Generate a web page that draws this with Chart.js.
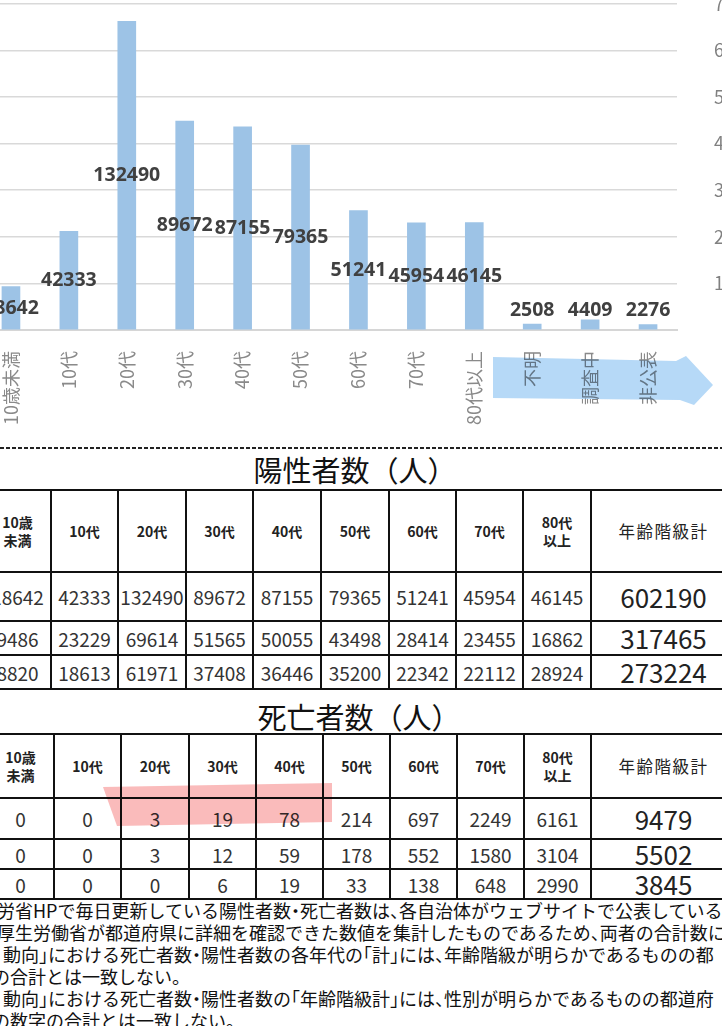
<!DOCTYPE html>
<html lang="ja">
<head>
<meta charset="utf-8">
<script src="https://cdn.jsdelivr.net/npm/chart.js@4.4.0/dist/chart.umd.min.js"></script>
<style>
html,body{margin:0;padding:0;width:722px;height:1026px;overflow:hidden;background:#fff;position:relative;font-family:"Noto Sans CJK JP","Noto Sans",sans-serif;}
#chart{position:absolute;left:-22px;top:-44px;}
#deco{position:absolute;left:0;top:0;pointer-events:none;}
.title{position:absolute;width:240px;text-align:center;font-size:29px;line-height:32px;color:#111;white-space:nowrap;}
table{position:absolute;border-collapse:collapse;table-layout:fixed;color:#222;}
td{border:2px solid #111;text-align:center;padding:0;white-space:nowrap;overflow:visible;line-height:1;}
tr.head td{font-size:14px;font-weight:700;line-height:18px;}
tr.head td.total{font-size:16.5px;font-weight:400;letter-spacing:1.5px;}
tr.data td{font-size:19px;color:#333;}
tr.data td.total{font-size:26px;color:#222;}
.note{position:absolute;font-size:18px;line-height:22px;white-space:nowrap;color:#111;font-feature-settings:"halt";}
</style>
</head>
<body>
<canvas id="chart" width="790" height="486"></canvas>

<script>
// ---- chart data ----
const categories = ['10歳未満','10代','20代','30代','40代','50代','60代','70代','80代以上','不明','調査中','非公表'];
const positives = [18642,42333,132490,89672,87155,79365,51241,45954,46145,2508,4409,2276];
const leftAxisMax = 140000;
const leftAxisStep = 20000;
const rightAxisMax = 7000;
const rightAxisStep = 1000;

// ---- table data ----
const tableHeaders = ['10歳\n未満','10代','20代','30代','40代','50代','60代','70代','80代\n以上','年齢階級計'];
const positiveTitle = '陽性者数（人）';
const positiveRows = [
  [18642,42333,132490,89672,87155,79365,51241,45954,46145,602190],
  [9486,23229,69614,51565,50055,43498,28414,23455,16862,317465],
  [8820,18613,61971,37408,36446,35200,22342,22112,28924,273224]
];
const deathTitle = '死亡者数（人）';
const deathRows = [
  [0,0,3,19,78,214,697,2249,6161,9479],
  [0,0,3,12,59,178,552,1580,3104,5502],
  [0,0,0,6,19,33,138,648,2990,3845]
];
const notes = [
  '厚労省HPで毎日更新している陽性者数・死亡者数は、各自治体がウェブサイトで公表している数',
  '厚生労働省が都道府県に詳細を確認できた数値を集計したものであるため、両者の合計数に',
  '動向」における死亡者数・陽性者数の各年代の「計」には、年齢階級が明らかであるものの都',
  'の合計とは一致しない。',
  '動向」における死亡者数・陽性者数の「年齢階級計」には、性別が明らかであるものの都道府',
  'の数字の合計とは一致しない。'
];

const labelFloor = 8600;
const centerLabels = {
  id: 'centerLabels',
  afterDatasetsDraw(chart) {
    const ctx = chart.ctx;
    const meta = chart.getDatasetMeta(0);
    const ys = chart.scales.y;
    ctx.save();
    ctx.font = '700 19.5px "Open Sans", sans-serif';
    ctx.fillStyle = '#404040';
    ctx.textAlign = 'center';
    ctx.textBaseline = 'middle';
    meta.data.forEach((bar, i) => {
      const v = positives[i];
      ctx.fillText(String(v), bar.x, ys.getPixelForValue(Math.max(v / 2, labelFloor)));
    });
    ctx.restore();
  }
};

Chart.defaults.font.family = '"Noto Sans CJK JP", sans-serif';
new Chart(document.getElementById('chart'), {
  type: 'bar',
  data: {
    labels: categories,
    datasets: [{ data: positives, backgroundColor: '#9dc3e6', barThickness: 18, yAxisID: 'y' }]
  },
  options: {
    responsive: false,
    animation: false,
    layout: { padding: { top: 12, left: 0, right: 0, bottom: 0 } },
    plugins: { legend: { display: false }, tooltip: { enabled: false } },
    scales: {
      x: {
        grid: { display: false },
        border: { display: true, color: '#d6d6d6', width: 2 },
        ticks: { autoSkip: false, maxRotation: 90, minRotation: 90, padding: 13, color: '#8a8a8a', font: { size: 18 } },
        afterFit(s) { s.height = 112; }
      },
      y: {
        position: 'left',
        min: 0, max: leftAxisMax,
        ticks: { display: false, stepSize: leftAxisStep },
        grid: { color: '#d9d9d9', lineWidth: 1.5, drawTicks: false },
        border: { display: false },
        afterFit(s) { s.width = 4; }
      },
      y2: {
        position: 'right',
        min: 0, max: rightAxisMax,
        ticks: { stepSize: rightAxisStep, padding: 37, color: '#808080', font: { size: 18 },
                 callback: v => v === 0 ? '' : String(v) },
        grid: { display: false, drawTicks: false },
        border: { display: false },
        afterFit(s) { s.width = 91; }
      }
    }
  },
  plugins: [centerLabels]
});

// ---- titles, tables, notes ----
function addTitle(text, cx, top) {
  const d = document.createElement('div');
  d.className = 'title';
  d.textContent = text;
  d.style.left = (cx - 120) + 'px';
  d.style.top = top + 'px';
  document.body.appendChild(d);
}
function addTable(rows, left, top, widths, heights) {
  const t = document.createElement('table');
  t.style.left = left + 'px';
  t.style.top = top + 'px';
  const cg = document.createElement('colgroup');
  widths.forEach(w => { const c = document.createElement('col'); c.style.width = w + 'px'; cg.appendChild(c); });
  t.appendChild(cg);
  t.style.width = widths.reduce((a, b) => a + b, 0) + 'px';
  const hr = document.createElement('tr');
  hr.className = 'head';
  hr.style.height = heights[0] + 'px';
  tableHeaders.forEach((h, i) => {
    const td = document.createElement('td');
    td.innerHTML = h.replace('\n', '<br>');
    if (i === tableHeaders.length - 1) td.className = 'total';
    hr.appendChild(td);
  });
  t.appendChild(hr);
  rows.forEach((r, ri) => {
    const tr = document.createElement('tr');
    tr.className = 'data';
    tr.style.height = heights[ri + 1] + 'px';
    r.forEach((v, i) => {
      const td = document.createElement('td');
      td.textContent = String(v);
      if (i === r.length - 1) td.className = 'total';
      tr.appendChild(td);
    });
    t.appendChild(tr);
  });
  document.body.appendChild(t);
}
addTitle(positiveTitle, 355, 453);
addTable(positiveRows, -17, 489, [67,67,68,67,68,68,67,67,68,145], [82,49,34,34]);
addTitle(deathTitle, 359, 700);
addTable(deathRows, -14, 733, [67,67,68,67,67,67,67,67,67,145], [64,41,30,30]);

const noteLefts = [-21, -3, 3, -8, 3, -8];
notes.forEach((n, i) => {
  const d = document.createElement('div');
  d.className = 'note';
  d.textContent = n;
  d.style.left = noteLefts[i] + 'px';
  d.style.top = (899 + i * 22) + 'px';
  document.body.appendChild(d);
});
</script>
<svg id="deco" width="722" height="1026" viewBox="0 0 722 1026">
  <line x1="0" y1="448" x2="722" y2="448" stroke="#222" stroke-width="2" stroke-dasharray="4 2"/>
  <polygon points="493,357 676,361 686,356 713,385 694,405 680,400 493,398" fill="rgba(110,180,240,0.5)" style="mix-blend-mode:multiply"/>
  <polygon points="103,787 332,783 332,822 117,826" fill="rgba(245,120,120,0.5)" style="mix-blend-mode:multiply"/>
</svg>
</body>
</html>
